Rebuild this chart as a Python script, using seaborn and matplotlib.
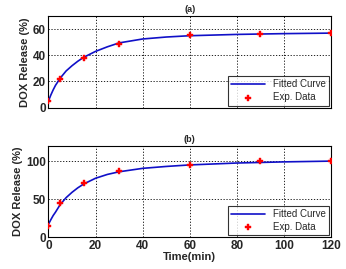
import numpy as np
import pandas as pd
import matplotlib
matplotlib.use("Agg")
import matplotlib.pyplot as plt
import seaborn as sns

# experimental points
time_exp = [0, 5, 15, 30, 60, 90, 120]
release_a = [5, 22, 38, 49, 55.5, 56.5, 57]
release_b = [15, 45, 71, 87, 95, 100, 100]

# fitted curves
time_fit = [0, 1, 2, 3, 5, 7.5, 10, 12.5, 15, 20, 25, 30, 40, 50, 60, 80, 100, 120]
fit_a = [5, 9.5, 13.5, 17, 22.5, 28, 32, 35.5, 38.5, 43, 46.5, 49.5, 52.5, 54, 55, 56, 56.6, 57]
fit_b = [17, 23, 28.5, 33, 43, 52, 59, 65, 70, 77.5, 82.5, 86, 90.5, 93, 95, 97.5, 99, 100]

sns.set_style("white")
plt.rcParams["font.family"] = ["Liberation Sans", "DejaVu Sans"]
plt.rcParams["font.weight"] = "bold"

fig, axes = plt.subplots(2, 1, figsize=(3.46, 2.69), dpi=100)
fig.subplots_adjust(left=0.14, right=0.957, top=0.94, bottom=0.118, hspace=0.42)

panels = [(axes[0], fit_a, release_a, "(a)", [0, 20, 40, 60], 70),
          (axes[1], fit_b, release_b, "(b)", [0, 50, 100], 120)]

for ax, fit, exp, title, yt, ymax in panels:
    sns.lineplot(x=time_fit, y=fit, ax=ax, color="#1010c8", lw=1.2, label="Fitted Curve")
    sns.scatterplot(x=time_exp, y=exp, ax=ax, color="red", marker="P", s=14,
                    edgecolor="red", linewidth=0.3, label="Exp. Data", zorder=5)
    ax.set_xlim(0, 120)
    ax.set_ylim(0, ymax)
    ax.set_xticks(range(0, 121, 20))
    ax.set_yticks(yt)
    ax.grid(True, color="black", linestyle=(0, (1.5, 2)), linewidth=0.6)
    ax.tick_params(direction="in", length=3, labelsize=8.5, width=0.8, pad=2)
    for sp in ax.spines.values():
        sp.set_color("black")
        sp.set_linewidth(0.8)
    ax.set_title(title, fontsize=6.5, fontweight="bold", pad=3)
    ax.set_ylabel("DOX Release (%)", fontsize=8, fontweight="bold", labelpad=2)
    leg = ax.legend(loc="lower right", fontsize=7, frameon=True, fancybox=False,
                    edgecolor="black", borderpad=0.35, handlelength=3.5,
                    labelspacing=0.3, borderaxespad=0.2, handletextpad=0.8)
    leg.get_frame().set_linewidth(0.8)
    for t in leg.get_texts():
        t.set_fontweight("normal")

axes[0].set_xticklabels([])
axes[0].set_xlabel("")
axes[1].set_xlabel("Time(min)", fontsize=8, fontweight="bold", labelpad=0)

fig.savefig("out.png", dpi=100)
